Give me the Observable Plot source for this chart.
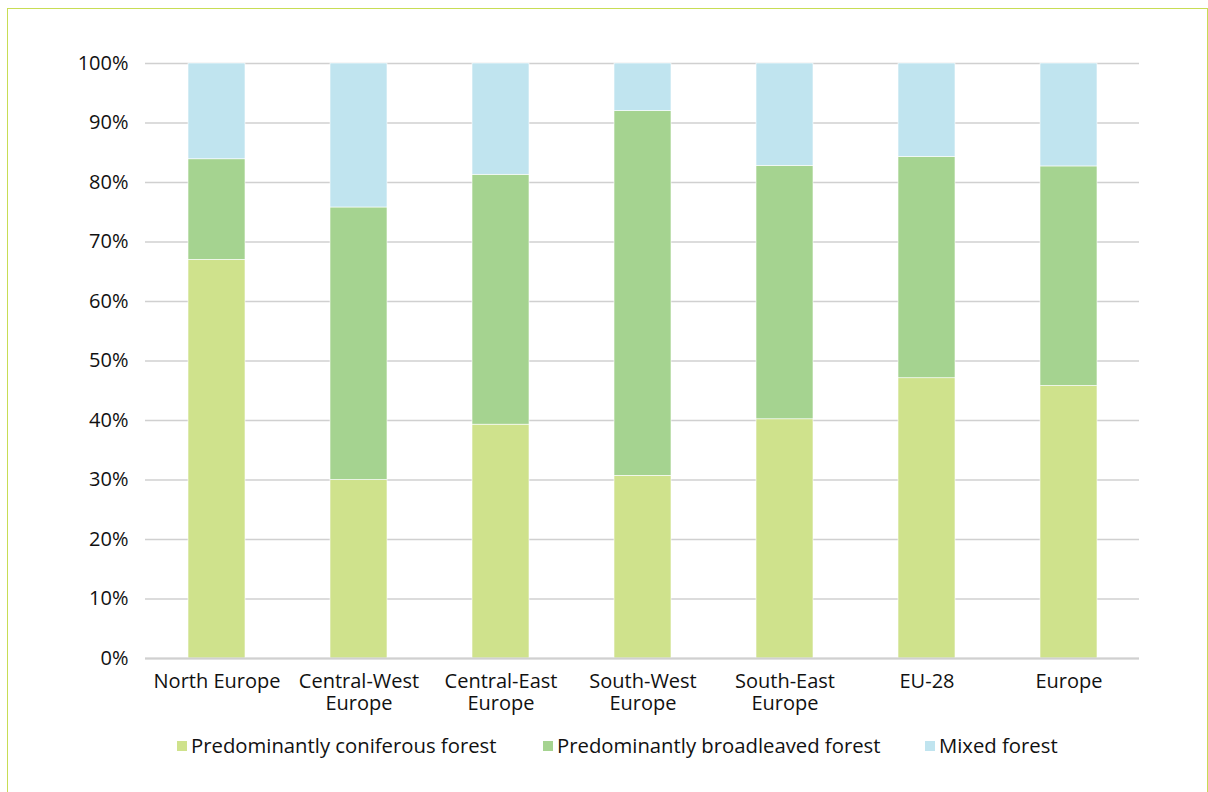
<!DOCTYPE html>
<html>
<head>
<meta charset="utf-8">
<script src="https://cdn.jsdelivr.net/npm/d3@7"></script>
<script src="https://cdn.jsdelivr.net/npm/@observablehq/plot@0.6"></script>
<style>
  html, body { margin: 0; padding: 0; background: #fff; }
  body { width: 1208px; height: 792px; position: relative; overflow: hidden; font-family: "Open Sans", Lato, sans-serif; }
  #frame { position: absolute; left: 7px; top: 8px; width: 1201px; height: 800px; border: 1.5px solid #c8dd55; box-sizing: border-box; }
  #chart { position: absolute; left: 0; top: 0; }
  #legend { position: absolute; left: 0; top: 731px; width: 1208px; height: 30px; }
  .item { position: absolute; top: 0; display: flex; align-items: center; font-size: 20.3px; color: #111; white-space: nowrap; }
  .sw { width: 10px; height: 10px; margin-right: 4px; margin-top: 2px; }
</style>
</head>
<body>
<div id="frame"></div>
<div id="chart"></div>
<div id="legend"></div>
<script>
const regions = ["North Europe", "Central-West Europe", "Central-East Europe", "South-West Europe", "South-East Europe", "EU-28", "Europe"];
const regionLabels = ["North Europe", "Central-West\nEurope", "Central-East\nEurope", "South-West\nEurope", "South-East\nEurope", "EU-28", "Europe"];
const seriesNames = ["Predominantly coniferous forest", "Predominantly broadleaved forest", "Mixed forest"];
const seriesColors = ["#cfe28c", "#a5d390", "#c0e4ef"];
const coniferous = [67.0, 30.0, 39.3, 30.7, 40.2, 47.1, 45.8];
const broadleaved = [16.9, 45.8, 42.0, 61.3, 42.6, 37.2, 36.9];
const mixed = [16.1, 24.2, 18.7, 8.0, 17.2, 15.7, 17.3];
const yTicks = [0, 10, 20, 30, 40, 50, 60, 70, 80, 90, 100];

const seriesValues = [coniferous, broadleaved, mixed];
const data = [];
seriesNames.forEach((s, si) => regions.forEach((r, ri) => data.push({region: r, series: s, value: seriesValues[si][ri]})));
const labelOf = new Map(regions.map((r, i) => [r, regionLabels[i]]));

const chart = Plot.plot({
  width: 1208,
  height: 720,
  marginTop: 63,
  marginBottom: 62,
  marginLeft: 145,
  marginRight: 69,
  style: {fontFamily: "'Open Sans', Lato, sans-serif", fontSize: "20px", color: "#111", background: "transparent"},
  x: {domain: regions, paddingInner: 0.6, paddingOuter: 0.3, label: null},
  y: {domain: [0, 100], label: null},
  color: {domain: seriesNames, range: seriesColors},
  marks: [
    Plot.gridY(yTicks, {stroke: "#d0d0d0", strokeOpacity: 1, strokeWidth: 1.5}),
    Plot.barY(data, Plot.stackY({order: seriesNames, x: "region", y: "value", fill: "series", stroke: "#fff", strokeWidth: 0.6, inset: 0})),
    Plot.ruleY([0], {stroke: "#d0d0d0", strokeWidth: 2}),
    Plot.axisY({ticks: yTicks, tickSize: 0, tickPadding: 17, tickFormat: d => d + "%", label: null}),
    Plot.axisX({tickSize: 0, tickPadding: 14, lineHeight: 1.1, tickFormat: d => labelOf.get(d), label: null})
  ]
});
document.getElementById("chart").appendChild(chart);

const legend = document.getElementById("legend");
const lefts = [177, 543, 925];
seriesNames.forEach((s, i) => {
  const it = document.createElement("div");
  it.className = "item";
  it.style.left = lefts[i] + "px";
  const sw = document.createElement("span");
  sw.className = "sw";
  sw.style.background = seriesColors[i];
  it.appendChild(sw);
  it.appendChild(document.createTextNode(s));
  legend.appendChild(it);
});
</script>
</body>
</html>
